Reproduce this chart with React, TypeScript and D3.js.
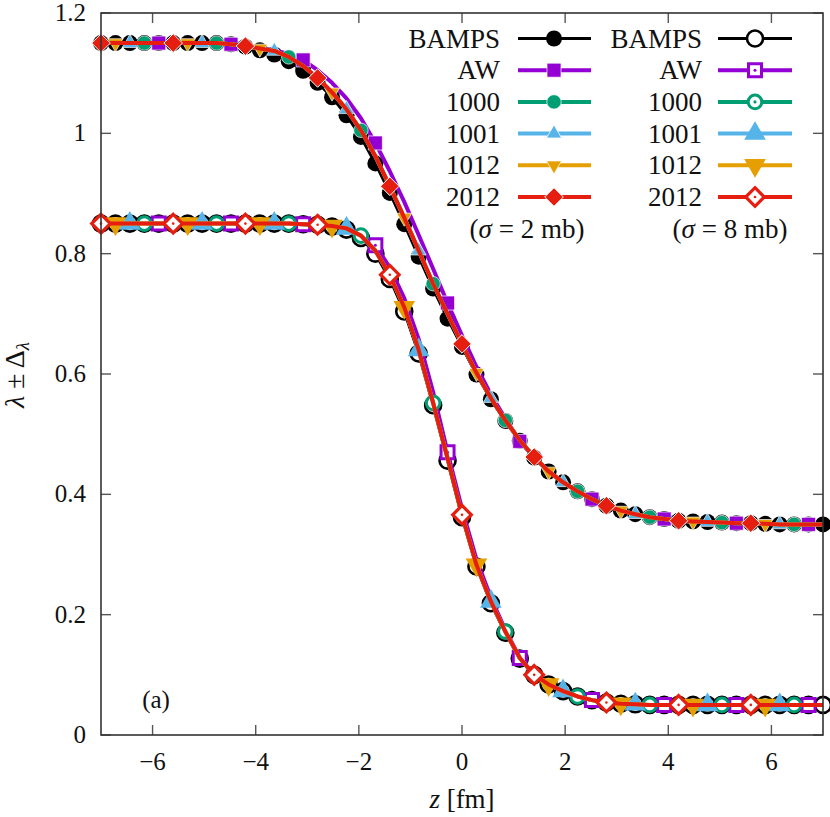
import React from "react";
import * as d3 from "d3";

// sample positions along z [fm]
const zGrid = [
  -7, -6.72, -6.44, -6.16, -5.88, -5.6, -5.32, -5.04, -4.76, -4.48, -4.2, -3.92, -3.64,
  -3.36, -3.08, -2.8, -2.52, -2.24, -1.96, -1.68, -1.4, -1.12, -0.84, -0.56, -0.28, 0,
  0.28, 0.56, 0.84, 1.12, 1.4, 1.68, 1.96, 2.24, 2.52, 2.8, 3.08, 3.36, 3.64, 3.92, 4.2,
  4.48, 4.76, 5.04, 5.32, 5.6, 5.88, 6.16, 6.44, 6.72, 7,
];

// sigma = 2 mb (filled symbols, upper curve)
const sigma2Bamps = [
  1.15, 1.15, 1.15, 1.15, 1.15, 1.15, 1.15, 1.15, 1.15, 1.148, 1.144, 1.138, 1.131,
  1.12, 1.104, 1.084, 1.06, 1.03, 0.994, 0.95, 0.901, 0.849, 0.795, 0.742, 0.692, 0.645,
  0.599, 0.558, 0.522, 0.489, 0.461, 0.438, 0.42, 0.405, 0.392, 0.381, 0.373, 0.367, 0.362,
  0.359, 0.356, 0.355, 0.354, 0.353, 0.352, 0.352, 0.351, 0.35, 0.35, 0.35, 0.35,
];
const sigma2Aw = [
  1.15, 1.15, 1.15, 1.15, 1.15, 1.15, 1.15, 1.15, 1.15, 1.148, 1.145, 1.142, 1.138,
  1.132, 1.122, 1.105, 1.084, 1.058, 1.025, 0.984, 0.937, 0.886, 0.831, 0.775, 0.718, 0.664,
  0.612, 0.566, 0.526, 0.488, 0.462, 0.438, 0.42, 0.405, 0.392, 0.381, 0.373, 0.367, 0.362,
  0.359, 0.356, 0.355, 0.354, 0.353, 0.352, 0.352, 0.351, 0.35, 0.35, 0.35, 0.35,
];
const sigma2Hydro = [
  1.15, 1.15, 1.15, 1.15, 1.15, 1.15, 1.15, 1.15, 1.15, 1.148, 1.145, 1.141, 1.137,
  1.127, 1.112, 1.092, 1.068, 1.04, 1.005, 0.962, 0.912, 0.86, 0.805, 0.75, 0.7, 0.65,
  0.602, 0.56, 0.523, 0.49, 0.462, 0.438, 0.42, 0.405, 0.392, 0.381, 0.373, 0.367, 0.362,
  0.359, 0.356, 0.355, 0.354, 0.353, 0.352, 0.352, 0.351, 0.35, 0.35, 0.35, 0.35,
];

// sigma = 8 mb (open symbols, lower curve)
const sigma8Bamps = [
  0.85, 0.85, 0.85, 0.85, 0.85, 0.85, 0.85, 0.85, 0.85, 0.85, 0.85, 0.85, 0.85, 0.85,
  0.849, 0.848, 0.845, 0.84, 0.826, 0.8, 0.758, 0.704, 0.634, 0.548, 0.456, 0.362, 0.28,
  0.219, 0.17, 0.127, 0.1, 0.084, 0.073, 0.064, 0.058, 0.054, 0.052, 0.051, 0.05, 0.05,
  0.05, 0.05, 0.05, 0.05, 0.05, 0.05, 0.05, 0.05, 0.05, 0.05, 0.05,
];
const sigma8Aw = [
  0.85, 0.85, 0.85, 0.85, 0.85, 0.85, 0.85, 0.85, 0.85, 0.85, 0.85, 0.85, 0.85, 0.85,
  0.849, 0.848, 0.846, 0.842, 0.835, 0.814, 0.777, 0.726, 0.658, 0.57, 0.47, 0.376, 0.292,
  0.228, 0.175, 0.128, 0.1, 0.084, 0.073, 0.064, 0.058, 0.054, 0.052, 0.051, 0.05, 0.05,
  0.05, 0.05, 0.05, 0.05, 0.05, 0.05, 0.05, 0.05, 0.05, 0.05, 0.05,
];
const sigma8Hydro = [
  0.85, 0.85, 0.85, 0.85, 0.85, 0.85, 0.85, 0.85, 0.85, 0.85, 0.85, 0.85, 0.85, 0.85,
  0.849, 0.848, 0.846, 0.842, 0.83, 0.805, 0.765, 0.711, 0.64, 0.552, 0.46, 0.366, 0.283,
  0.222, 0.172, 0.128, 0.1, 0.084, 0.073, 0.064, 0.058, 0.054, 0.052, 0.051, 0.05, 0.05,
  0.05, 0.05, 0.05, 0.05, 0.05, 0.05, 0.05, 0.05, 0.05, 0.05, 0.05,
];

const seriesNames = ["BAMPS", "AW", "1000", "1001", "1012", "2012"];
const seriesColors = ["#000000", "#9400d3", "#009e73", "#56b4e9", "#e69f00", "#e51e10"];
const seriesMarkers = ["bamps", "square", "circle", "triangleUp", "triangleDown", "diamond"];
const markerOffsets = [-1, 4, 3, 2, 1, 0]; // -1: every point
const groupNotes = ["2", "8"];

const W = 830;
const H = 817;
const margin = { top: 13, right: 7, bottom: 82, left: 101 };
const FONT = "Liberation Serif";

function Marker({ kind, color, open, cx, cy }) {
  const t = `translate(${cx},${cy})`;
  if (kind === "bamps") {
    return open ? (
      <circle cx={cx} cy={cy} r={8} fill="#fff" stroke="#000" strokeWidth={2.6} />
    ) : (
      <circle cx={cx} cy={cy} r={8} fill="#000" />
    );
  }
  if (kind === "circle") {
    return open ? (
      <g transform={t}>
        <circle r={6.8} fill="#fff" stroke={color} strokeWidth={3} />
        <circle r={1.6} fill={color} />
      </g>
    ) : (
      <circle cx={cx} cy={cy} r={7.2} fill={color} stroke="#fff" strokeWidth={0.7} />
    );
  }
  if (kind === "square") {
    const s = open ? 6.5 : 7;
    const d = `M${-s},${-s}H${s}V${s}H${-s}Z`;
    return open ? (
      <g transform={t}>
        <path d={d} fill="#fff" stroke={color} strokeWidth={3} />
        <circle r={1.5} fill={color} />
      </g>
    ) : (
      <path transform={t} d={d} fill={color} stroke="#fff" strokeWidth={0.7} />
    );
  }
  if (kind === "triangleUp" || kind === "triangleDown") {
    const s = open ? 9.5 : 7.5;
    const k = kind === "triangleUp" ? 1 : -1;
    const d = `M0,${-k * s * 1.155}L${s},${k * s * 0.577}L${-s},${k * s * 0.577}Z`;
    return (
      <path transform={t} d={d} fill={color} stroke={open ? color : "#fff"} strokeWidth={open ? 1.5 : 0.7} />
    );
  }
  // diamond
  const s = 9.3;
  const d = `M0,${-s}L${s},0L0,${s}L${-s},0Z`;
  return open ? (
    <g transform={t}>
      <path d={d} fill="#fff" stroke={color} strokeWidth={3.2} />
      <circle r={1.3} fill={color} />
    </g>
  ) : (
    <path transform={t} d={d} fill={color} stroke="#fff" strokeWidth={1} />
  );
}

export default function App() {
  const x = d3.scaleLinear().domain([-7, 7]).range([margin.left, W - margin.right]);
  const y = d3.scaleLinear().domain([0, 1.2]).range([H - margin.bottom, margin.top]);
  const fmtY = d3.format("~g");
  const fmtX = x.tickFormat();

  const groups = [
    { open: false, data: [sigma2Bamps, sigma2Aw, sigma2Hydro, sigma2Hydro, sigma2Hydro, sigma2Hydro] },
    { open: true, data: [sigma8Bamps, sigma8Aw, sigma8Hydro, sigma8Hydro, sigma8Hydro, sigma8Hydro] },
  ];

  const line = d3
    .line<number>()
    .x((_, i) => x(zGrid[i]))
    .y((v) => y(v));

  const x0 = margin.left;
  const x1 = W - margin.right;
  const y0 = H - margin.bottom;
  const y1 = margin.top;
  const tickLen = 10;

  // legend layout
  const legendRows = seriesNames.map((_, i) => 38.5 + i * 31.7);
  const legendCols = [
    { labelX: 500, lineX0: 518, lineX1: 591, markX: 554, noteX: 527 },
    { labelX: 702, lineX0: 718, lineX1: 792, markX: 755, noteX: 730 },
  ];

  return (
    <svg
      width={W}
      height={H}
      style={{ position: "absolute", left: 0, top: 0, background: "#fff", fontFamily: FONT }}
    >
      {/* curves */}
      {groups.map((g, gi) => (
        <g key={gi}>
          {seriesNames.map((name, si) => {
            const vals = g.data[si];
            const off = markerOffsets[si];
            const pts = vals
              .map((v, i) => ({ v, i }))
              .filter(({ i }) => (off < 0 ? true : i % 5 === off && i < zGrid.length - 1));
            return (
              <g key={name}>
                <path
                  d={line(vals) || ""}
                  fill="none"
                  stroke={seriesColors[si]}
                  strokeWidth={si === 0 ? 3 : 4}
                  strokeLinejoin="round"
                />
                {pts.map(({ v, i }) => (
                  <Marker
                    key={i}
                    kind={seriesMarkers[si]}
                    color={seriesColors[si]}
                    open={g.open}
                    cx={x(zGrid[i])}
                    cy={y(v)}
                  />
                ))}
              </g>
            );
          })}
        </g>
      ))}

      {/* frame and ticks */}
      <g stroke="#555" strokeWidth={1.4}>
        {x.ticks(7).map((t) => (
          <g key={"xt" + t}>
            <line x1={x(t)} x2={x(t)} y1={y0} y2={y0 - tickLen} />
            <line x1={x(t)} x2={x(t)} y1={y1} y2={y1 + tickLen} />
          </g>
        ))}
        {y.ticks(6).map((t) => (
          <g key={"yt" + t}>
            <line x1={x0} x2={x0 + tickLen} y1={y(t)} y2={y(t)} />
            <line x1={x1} x2={x1 - tickLen} y1={y(t)} y2={y(t)} />
          </g>
        ))}
        <rect x={x0} y={y1} width={x1 - x0} height={y0 - y1} fill="none" stroke="#333" strokeWidth={1.6} />
      </g>

      {/* tick labels */}
      <g fontSize={25} fill="#111" style={{ fontFamily: FONT }}>
        {x.ticks(7).map((t) => (
          <text key={"xl" + t} x={x(t)} y={y0 + 35} textAnchor="middle">
            {fmtX(t)}
          </text>
        ))}
        {y.ticks(6).map((t) => (
          <text key={"yl" + t} x={86} y={y(t) + 8} textAnchor="end">
            {fmtY(t)}
          </text>
        ))}
      </g>

      {/* axis titles */}
      <g fill="#111" style={{ fontFamily: FONT }}>
        <text x={x(0)} y={808} textAnchor="middle" fontSize={27}>
          <tspan fontStyle="italic">z</tspan> [fm]
        </text>
        <text transform="translate(24,375) rotate(-90)" textAnchor="middle" fontSize={28}>
          <tspan fontStyle="italic">λ</tspan> ± Δ
          <tspan fontStyle="italic" fontSize={19} dy={5}>λ</tspan>
        </text>
        <text x={156} y={708} textAnchor="middle" fontSize={25}>
          (a)
        </text>
      </g>

      {/* legend */}
      {legendCols.map((c, gi) => (
        <g key={"lg" + gi} style={{ fontFamily: FONT }}>
          {seriesNames.map((name, si) => (
            <g key={name}>
              <text x={c.labelX} y={legendRows[si] + 9} textAnchor="end" fontSize={27} fill="#111">
                {name}
              </text>
              <line
                x1={c.lineX0}
                x2={c.lineX1}
                y1={legendRows[si]}
                y2={legendRows[si]}
                stroke={seriesColors[si]}
                strokeWidth={si === 0 ? 3 : 4}
              />
              <Marker
                kind={seriesMarkers[si]}
                color={seriesColors[si]}
                open={gi === 1}
                cx={c.markX}
                cy={legendRows[si]}
              />
            </g>
          ))}
          <text x={c.noteX} y={legendRows[5] + 31.7 + 9} textAnchor="middle" fontSize={27} fill="#111">
            (<tspan fontStyle="italic">σ</tspan> = {groupNotes[gi]} mb)
          </text>
        </g>
      ))}
    </svg>
  );
}
